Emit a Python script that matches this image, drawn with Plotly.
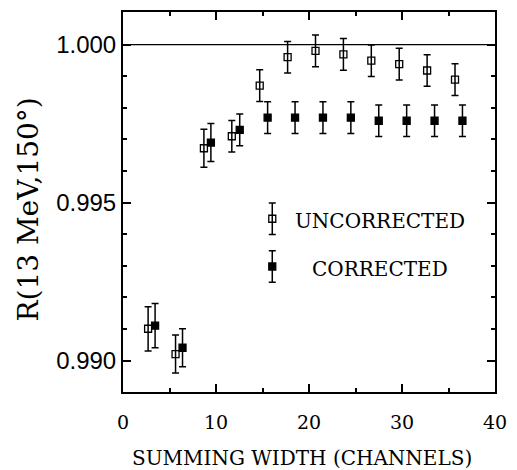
import plotly.graph_objects as go

# ---- data ----
unc_x = [2.7, 5.65, 8.7, 11.7, 14.7, 17.7, 20.7, 23.7, 26.7, 29.7, 32.7, 35.7]
unc_y = [0.99101, 0.99021, 0.99672, 0.99710, 0.99870, 0.99960, 0.99980, 0.99969, 0.99949, 0.99938, 0.99918, 0.99889]
unc_err = [0.0007, 0.0006, 0.0006, 0.0005, 0.0005, 0.0005, 0.0005, 0.0005, 0.0005, 0.0005, 0.0005, 0.0005]

cor_x = [3.45, 6.4, 9.45, 12.55, 15.55, 18.5, 21.5, 24.5, 27.5, 30.5, 33.5, 36.5]
cor_y = [0.99111, 0.99041, 0.99690, 0.99730, 0.99769, 0.99769, 0.99769, 0.99769, 0.99759, 0.99759, 0.99759, 0.99759]
cor_err = [0.0007, 0.0006, 0.0006, 0.0005, 0.0005, 0.0005, 0.0005, 0.0005, 0.0005, 0.0005, 0.0005, 0.0005]

legend_labels = ["UNCORRECTED", "CORRECTED"]
legend_sym_x = 16.05
legend_sym_y = [0.99449, 0.99298]
legend_txt_x = 27.6
legend_txt_y = [0.99442, 0.99290]
legend_err = 0.0005

x_range = [0, 40]
y_range = [0.98901, 1.00103]
x_title = "SUMMING WIDTH (CHANNELS)"
y_title = "R(13 MeV,150°)"

SERIF = "DejaVu Serif"
SANS = "Liberation Sans"

fig = go.Figure()

def add_series(x, y, err, filled):
    fig.add_trace(go.Scatter(
        x=x, y=y, mode="markers",
        marker=dict(symbol="square" if filled else "square-open", size=7,
                    color="black", line=dict(color="black", width=1.3)),
        error_y=dict(type="data", array=err, visible=True, color="black",
                     thickness=1.5, width=3.5),
        showlegend=False, cliponaxis=False,
    ))

add_series(unc_x, unc_y, unc_err, False)
add_series(cor_x, cor_y, cor_err, True)

# legend keys
for i, filled in enumerate([False, True]):
    add_series([legend_sym_x], [legend_sym_y[i]], [legend_err], filled)
    fig.add_annotation(x=legend_txt_x, y=legend_txt_y[i], xref="x", yref="y",
                       text=legend_labels[i], showarrow=False,
                       xanchor="center", yanchor="middle",
                       font=dict(family=SERIF, size=20, color="black"))

# reference line at 1.000
fig.add_shape(type="line", xref="paper", yref="y", x0=0, x1=1, y0=1.0, y1=1.0,
              line=dict(color="black", width=1.3))

axis_common = dict(showgrid=False, zeroline=False, showline=True, linecolor="black",
                   linewidth=2, mirror="ticks", ticks="inside", tickcolor="black",
                   tickwidth=1.5, ticklen=8)

fig.update_xaxes(range=x_range, tick0=0, dtick=10, **axis_common,
                 ticklabelstandoff=12,
                 tickfont=dict(family=SERIF, size=19, color="black"),
                 minor=dict(dtick=5, tick0=0, ticks="inside", ticklen=4,
                            tickcolor="black", tickwidth=1.5))
fig.update_yaxes(range=y_range, tick0=0.99, dtick=0.005, tickformat=".3f", **axis_common,
                 tickfont=dict(family=SANS, size=24, color="black"),
                 minor=dict(dtick=0.001, tick0=0.99, ticks="inside", ticklen=4,
                            tickcolor="black", tickwidth=1.5))

fig.add_annotation(text=x_title, xref="paper", yref="paper", x=0.48, y=0,
                   yshift=-66, xanchor="center", yanchor="middle", showarrow=False,
                   font=dict(family=SERIF, size=20, color="black"))
fig.add_annotation(text=y_title, xref="paper", yref="paper", x=0, y=0.48,
                   xshift=-94, xanchor="center", yanchor="middle", textangle=-90,
                   showarrow=False, font=dict(family=SERIF, size=28, color="black"))

fig.update_layout(width=517, height=470, margin=dict(l=123, r=19, t=10, b=78),
                  paper_bgcolor="white", plot_bgcolor="white")

fig.write_html("out.html")
